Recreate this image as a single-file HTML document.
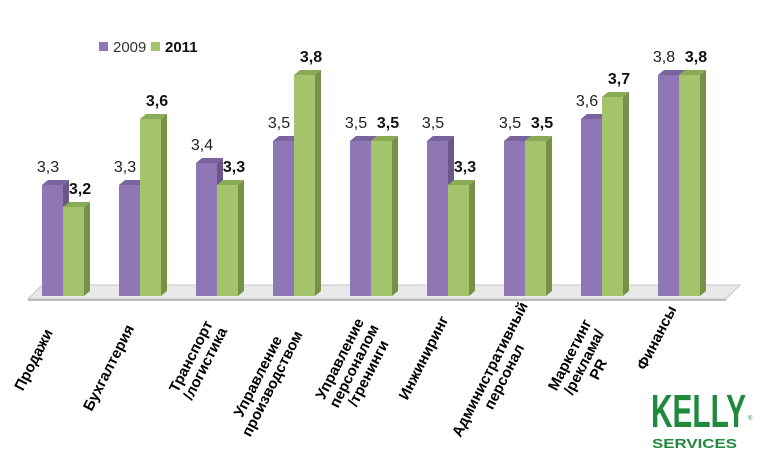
<!DOCTYPE html>
<html><head><meta charset="utf-8"><style>
body{margin:0;background:#fff}
svg{display:block;font-family:"Liberation Sans",Arial,sans-serif}
.p{fill:#8f77b5}.ps{fill:#6a568a}.pt{fill:#7a64a0}
.g{fill:#a3c46a}.gs{fill:#779248}.gt{fill:#8aab55}
.v{font-size:16px;fill:#222;text-anchor:middle}
.b{font-size:16px;font-weight:bold;fill:#111;text-anchor:middle}
.c{font-size:15px;font-weight:bold;fill:#000;text-anchor:middle}
</style></head><body>
<svg width="768" height="456" viewBox="0 0 768 456">
<polygon points="42,285 740,285 726,299 28,299" fill="#e8e8e8" stroke="#c8c8c8"/>
<polygon points="28,299 726,299 726,301 28,301" fill="#bbb"/>
<rect x="99" y="42" width="9" height="9" class="p"/>
<text x="113" y="52" font-size="15" fill="#333">2009</text>
<rect x="151" y="42" width="9" height="9" class="g"/>
<text x="165" y="52" font-size="15" font-weight="bold" fill="#111">2011</text>

<g id="bars">
<polygon class="pt" points="42,185 48,180 69,180 63,185"/><polygon class="ps" points="63,185 69,180 69,291 63,296"/><rect class="p" x="42" y="185" width="21" height="111"/>
<polygon class="gt" points="63,207 69,202 90,202 84,207"/><polygon class="gs" points="84,207 90,202 90,291 84,296"/><rect class="g" x="63" y="207" width="21" height="89"/>
<polygon class="pt" points="119,185 125,180 146,180 140,185"/><polygon class="ps" points="140,185 146,180 146,291 140,296"/><rect class="p" x="119" y="185" width="21" height="111"/>
<polygon class="gt" points="140,119 146,114 167,114 161,119"/><polygon class="gs" points="161,119 167,114 167,291 161,296"/><rect class="g" x="140" y="119" width="21" height="177"/>
<polygon class="pt" points="196,163 202,158 223,158 217,163"/><polygon class="ps" points="217,163 223,158 223,291 217,296"/><rect class="p" x="196" y="163" width="21" height="133"/>
<polygon class="gt" points="217,185 223,180 244,180 238,185"/><polygon class="gs" points="238,185 244,180 244,291 238,296"/><rect class="g" x="217" y="185" width="21" height="111"/>
<polygon class="pt" points="273,141 279,136 300,136 294,141"/><polygon class="ps" points="294,141 300,136 300,291 294,296"/><rect class="p" x="273" y="141" width="21" height="155"/>
<polygon class="gt" points="294,75 300,70 321,70 315,75"/><polygon class="gs" points="315,75 321,70 321,291 315,296"/><rect class="g" x="294" y="75" width="21" height="221"/>
<polygon class="pt" points="350,141 356,136 377,136 371,141"/><polygon class="ps" points="371,141 377,136 377,291 371,296"/><rect class="p" x="350" y="141" width="21" height="155"/>
<polygon class="gt" points="371,141 377,136 398,136 392,141"/><polygon class="gs" points="392,141 398,136 398,291 392,296"/><rect class="g" x="371" y="141" width="21" height="155"/>
<polygon class="pt" points="427,141 433,136 454,136 448,141"/><polygon class="ps" points="448,141 454,136 454,291 448,296"/><rect class="p" x="427" y="141" width="21" height="155"/>
<polygon class="gt" points="448,185 454,180 475,180 469,185"/><polygon class="gs" points="469,185 475,180 475,291 469,296"/><rect class="g" x="448" y="185" width="21" height="111"/>
<polygon class="pt" points="504,141 510,136 531,136 525,141"/><polygon class="ps" points="525,141 531,136 531,291 525,296"/><rect class="p" x="504" y="141" width="21" height="155"/>
<polygon class="gt" points="525,141 531,136 552,136 546,141"/><polygon class="gs" points="546,141 552,136 552,291 546,296"/><rect class="g" x="525" y="141" width="21" height="155"/>
<polygon class="pt" points="581,119 587,114 608,114 602,119"/><polygon class="ps" points="602,119 608,114 608,291 602,296"/><rect class="p" x="581" y="119" width="21" height="177"/>
<polygon class="gt" points="602,97 608,92 629,92 623,97"/><polygon class="gs" points="623,97 629,92 629,291 623,296"/><rect class="g" x="602" y="97" width="21" height="199"/>
<polygon class="pt" points="658,75 664,70 685,70 679,75"/><polygon class="ps" points="679,75 685,70 685,291 679,296"/><rect class="p" x="658" y="75" width="21" height="221"/>
<polygon class="gt" points="679,75 685,70 706,70 700,75"/><polygon class="gs" points="700,75 706,70 706,291 700,296"/><rect class="g" x="679" y="75" width="21" height="221"/>
</g>

<text class="v" x="48" y="172">3,3</text><text class="b" x="80" y="194">3,2</text>
<text class="v" x="125" y="172">3,3</text><text class="b" x="157" y="106">3,6</text>
<text class="v" x="202" y="150">3,4</text><text class="b" x="234" y="172">3,3</text>
<text class="v" x="279" y="128">3,5</text><text class="b" x="311" y="62">3,8</text>
<text class="v" x="356" y="128">3,5</text><text class="b" x="388" y="128">3,5</text>
<text class="v" x="433" y="128">3,5</text><text class="b" x="465" y="172">3,3</text>
<text class="v" x="510" y="128">3,5</text><text class="b" x="542" y="128">3,5</text>
<text class="v" x="587" y="106">3,6</text><text class="b" x="619" y="84">3,7</text>
<text class="v" x="664" y="62">3,8</text><text class="b" x="696" y="62">3,8</text>

<text class="c" transform="translate(38,362) rotate(-63)">Продажи</text>
<text class="c" transform="translate(113,370) rotate(-63)">Бухгалтерия</text>
<text class="c" transform="translate(198,360) rotate(-63)"><tspan x="0" dy="-3">Транспорт</tspan><tspan x="0" dy="16">/логистика</tspan></text>
<text class="c" transform="translate(265,380) rotate(-63)"><tspan x="0" dy="-3">Управление</tspan><tspan x="0" dy="16">производством</tspan></text>
<text class="c" transform="translate(354,366) rotate(-63)"><tspan x="0" dy="-11">Управление</tspan><tspan x="0" dy="16">персоналом</tspan><tspan x="0" dy="16">/тренинги</tspan></text>
<text class="c" transform="translate(428,360) rotate(-63)">Инжиниринг</text>
<text class="c" transform="translate(497,373) rotate(-63)"><tspan x="0" dy="-3">Административный</tspan><tspan x="0" dy="16">персонал</tspan></text>
<text class="c" transform="translate(584,362) rotate(-63)"><tspan x="0" dy="-11">Маркетинг</tspan><tspan x="0" dy="16">/реклама/</tspan><tspan x="0" dy="16">PR</tspan></text>
<text class="c" transform="translate(661,340) rotate(-63)">Финансы</text>

<text x="651" y="427" font-size="46" font-weight="bold" fill="#1f8a3c" textLength="95" lengthAdjust="spacingAndGlyphs">KELLY</text>
<text x="748" y="420" font-size="6" fill="#1f8a3c">®</text>
<text x="652" y="448" font-size="13" font-weight="bold" fill="#1f8a3c" textLength="85" lengthAdjust="spacingAndGlyphs">SERVICES</text>
</svg>
</body></html>
